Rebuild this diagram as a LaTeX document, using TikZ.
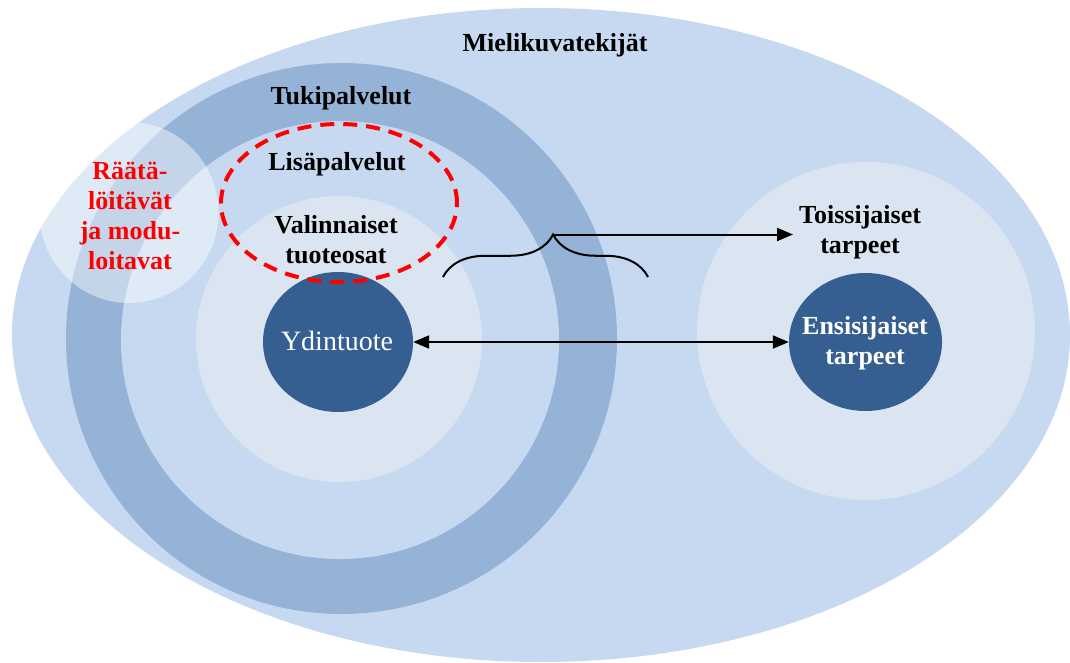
\documentclass[tikz,border=0pt]{standalone}
\usepackage{fontspec}
\setmainfont{Liberation Serif}
\usetikzlibrary{shapes.geometric,arrows.meta,decorations.pathreplacing}
\definecolor{paleblue}{HTML}{C6D9F1}
\definecolor{midblue}{HTML}{95B3D7}
\definecolor{mistblue}{HTML}{DBE5F1}
\definecolor{deepblue}{HTML}{365F91}
\begin{document}
\begin{tikzpicture}[x=1pt,y=-1pt,
  disc/.style={ellipse, inner sep=0pt, draw=none},
  lbl/.style={font=\fontsize{26}{30}\selectfont\bfseries, align=center, text=black, inner sep=0pt},
  corelbl/.style={font=\fontsize{28}{30}\selectfont, align=center, text=white, inner sep=0pt},
  redlbl/.style={font=\fontsize{26}{30}\selectfont\bfseries, align=center, text=red, inner sep=0pt},
  arr/.style={line width=2pt, -{Triangle[length=16pt,width=13pt]}},
  dblarr/.style={line width=2pt, {Triangle[length=16pt,width=13pt]}-{Triangle[length=16pt,width=13pt]}}]
\useasboundingbox (0,0) rectangle (1070,662);

% outer image-factor ellipse
\node[disc, fill=paleblue, minimum width=1058pt, minimum height=654pt] (mieli) at (541,335) {};

% product rings
\node[disc, fill=midblue, minimum width=551pt, minimum height=551pt] (tuki) at (341.5,338.5) {};
\node[disc, fill=paleblue, minimum width=438pt, minimum height=438pt] (lisa) at (340,340) {};
\node[disc, fill=mistblue, minimum width=286pt, minimum height=286pt] (valin) at (339,339) {};
\node[disc, fill=deepblue, minimum width=150pt, minimum height=140pt] (ydin) at (338,342) {};

% needs circles
\node[disc, fill=mistblue, minimum width=338pt, minimum height=338pt] (needs) at (866,331) {};
\node[disc, fill=deepblue, minimum width=153pt, minimum height=138pt] (ensi) at (865.5,342) {};

% tailoring overlay
\node[disc, fill=white, fill opacity=0.45, minimum width=179pt, minimum height=181pt] (raata) at (129,212.5) {};

% dashed highlight of additional services
\node[disc, draw=red, line width=4pt, dash pattern=on 14pt off 9pt, minimum width=236pt, minimum height=158pt] (korostus) at (339,203) {};

% labels
\node[lbl] (tmieli) at (555,45) {Mielikuvatekijät};
\node[lbl] (ttuki) at (341,98) {Tukipalvelut};
\node[lbl] (tlisa) at (337,164) {Lisäpalvelut};
\node[lbl] (tvalin) at (336,240) {Valinnaiset\\tuoteosat};
\node[corelbl] (tydin) at (337,341) {Ydintuote};
\node[lbl] (ttoiss) at (860,232) {Toissijaiset\\tarpeet};
\node[corelbl, font=\fontsize{26}{30}\selectfont\bfseries] (tensi) at (865,343) {Ensisijaiset\\tarpeet};
\node[redlbl] (traata) at (130,216) {Räätä-\\löitävät\\ja modu-\\loitavat};

% brace and connectors
\coordinate (bl) at (443,277);
\coordinate (br) at (648,277);
\coordinate (btip) at (553,234.5);
\coordinate (tend) at (793,234.5);
\draw[decorate, decoration={brace, amplitude=42.5pt, aspect=0.537}, line width=2pt] (bl) -- (br);
\draw[arr] (btip) -- (tend);
\draw[dblarr] (ydin.east) -- (ensi.west);
\end{tikzpicture}
\end{document}
